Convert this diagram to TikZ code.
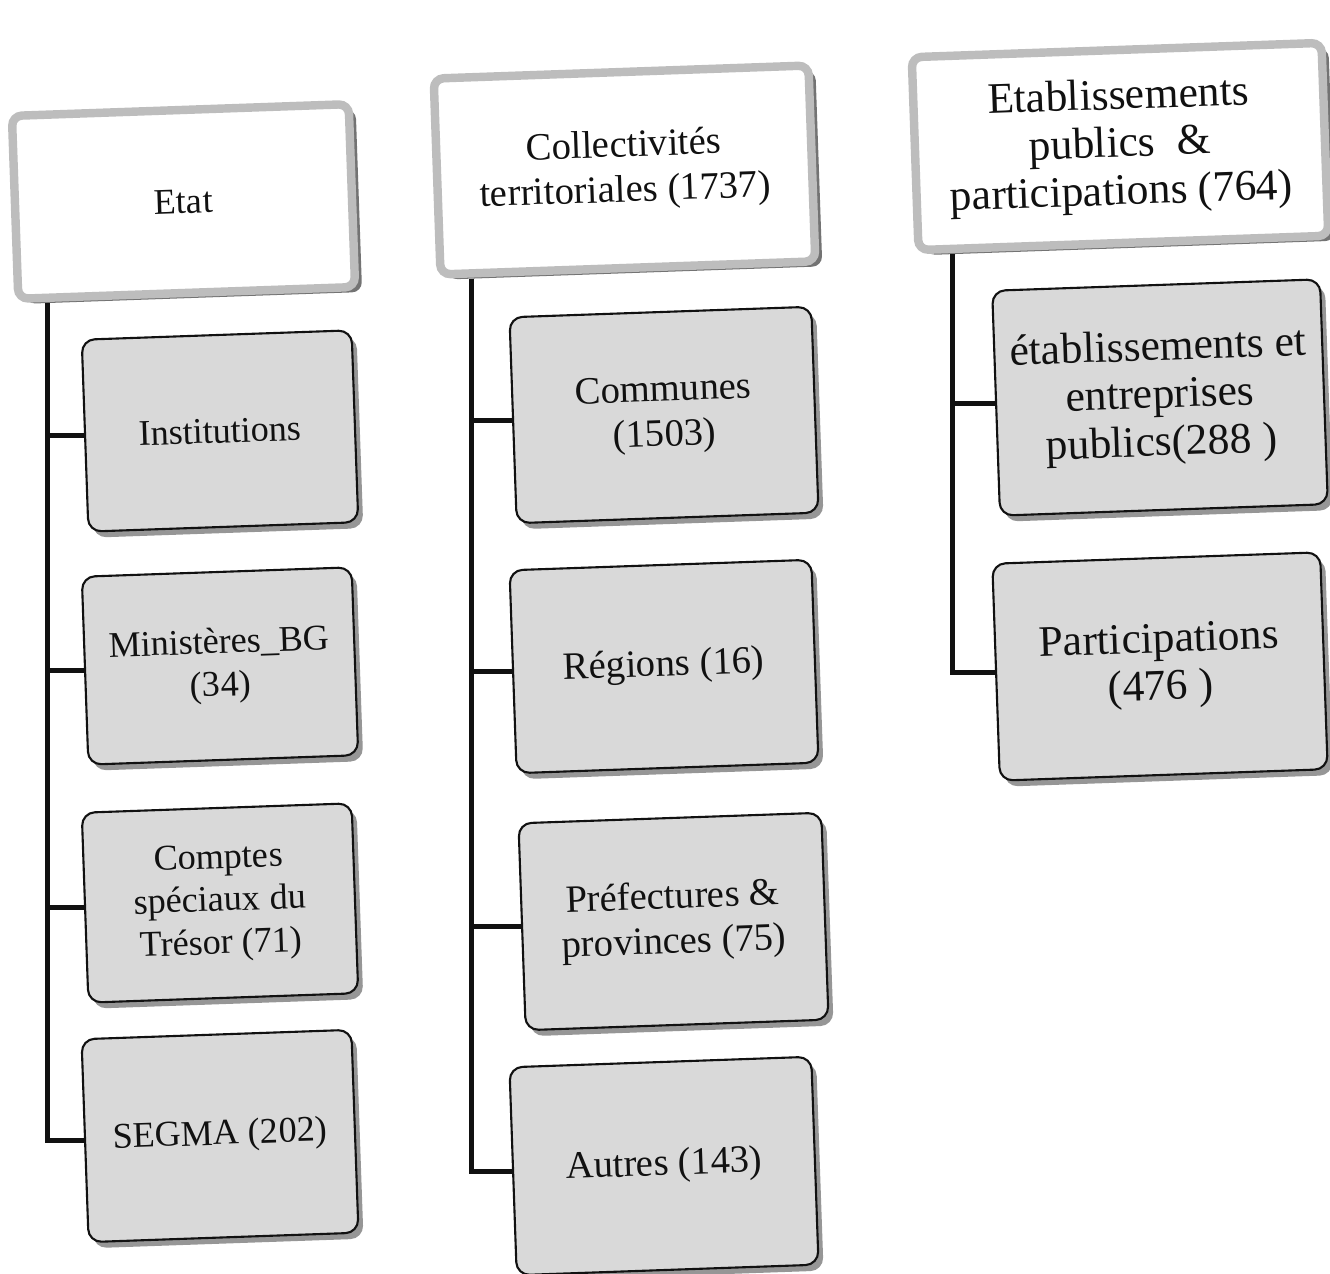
\documentclass[tikz,border=0pt]{standalone}
\usepackage{fontspec}
\setmainfont{Liberation Serif}
\usetikzlibrary{shadows}
\definecolor{ChartInk}{HTML}{111111}
\definecolor{ChartRim}{HTML}{BDBDBD}
\definecolor{ChartShade}{HTML}{505050}
\definecolor{ChartBox}{HTML}{D9D9D9}
\tikzset{
  every node/.style={text=ChartInk, align=center},
  header/.style={draw=ChartRim, line width=2.4pt, fill=white, rounded corners=0.1cm, rotate=2,
    drop shadow={shadow xshift=0.7mm, shadow yshift=-0.5mm, fill=ChartShade, opacity=0.8}},
  entity/.style={draw=ChartInk, line width=0.6pt, fill=ChartBox, rounded corners=0.13cm, rotate=2,
    drop shadow={shadow xshift=0.5mm, shadow yshift=-0.6mm, fill=ChartShade, opacity=0.6}},
  colA/.style={font=\fontsize{10.3}{12.2}\selectfont},
  colB/.style={font=\fontsize{11}{12.8}\selectfont},
  colC/.style={font=\fontsize{12.4}{13.6}\selectfont},
  branch/.style={draw=ChartInk, line width=1.4pt, line join=miter},
}
\begin{document}
\begin{tikzpicture}[x=1cm,y=1cm]
  \useasboundingbox (0,0) rectangle (13.3,12.74);
  % Etat
  \node[header, colA, minimum width=3.37cm, minimum height=1.83cm] (etat) at (1.835,10.725) {Etat};
  \node[entity, colA, minimum width=2.7cm, minimum height=1.92cm] (inst) at (2.2,8.43) {Institutions};
  \node[entity, colA, minimum width=2.7cm, minimum height=1.88cm] (mini) at (2.2,6.08) {Ministères\_BG\\(34)};
  \node[entity, colA, minimum width=2.7cm, minimum height=1.9cm] (comptes) at (2.2,3.71) {Comptes\\spéciaux du\\Trésor (71)};
  \node[entity, colA, minimum width=2.7cm, minimum height=2.03cm] (segma) at (2.2,1.38) {SEGMA (202)};
  \foreach \c in {inst,mini,comptes,segma}
    \draw[branch] ([xshift=3.3mm]etat.south west) |- (\c.west);
  % Collectivites territoriales
  \node[header, colB, minimum width=3.75cm, minimum height=1.96cm] (coll) at (6.245,11.04) {Collectivités\\territoriales (1737)};
  \node[entity, colB, minimum width=3.02cm, minimum height=2.06cm] (comm) at (6.64,8.59) {Communes\\(1503)};
  \node[entity, colB, minimum width=3.02cm, minimum height=2.03cm] (reg) at (6.64,6.075) {Régions (16)};
  \node[entity, colB, minimum width=3.03cm, minimum height=2.07cm] (pref) at (6.735,3.525) {Préfectures \&\\provinces (75)};
  \node[entity, colB, minimum width=3.02cm, minimum height=2.08cm] (autres) at (6.64,1.08) {Autres (143)};
  \foreach \c in {comm,reg,pref,autres}
    \draw[branch] ([xshift=3.5mm]coll.south west) |- (\c.west);
  % Etablissements publics & participations
  \node[header, colC, minimum width=4.1cm, minimum height=1.93cm] (etab) at (11.2,11.275) {Etablissements\\publics \ \&\\participations (764)};
  \node[entity, colC, minimum width=3.28cm, minimum height=2.25cm] (epub) at (11.6,8.765) {établissements et\\entreprises\\publics(288 )};
  \node[entity, colC, minimum width=3.28cm, minimum height=2.17cm] (part) at (11.6,6.075) {Participations\\(476 )};
  \foreach \c in {epub,part}
    \draw[branch] ([xshift=3.8mm]etab.south west) |- (\c.west);
\end{tikzpicture}
\end{document}
